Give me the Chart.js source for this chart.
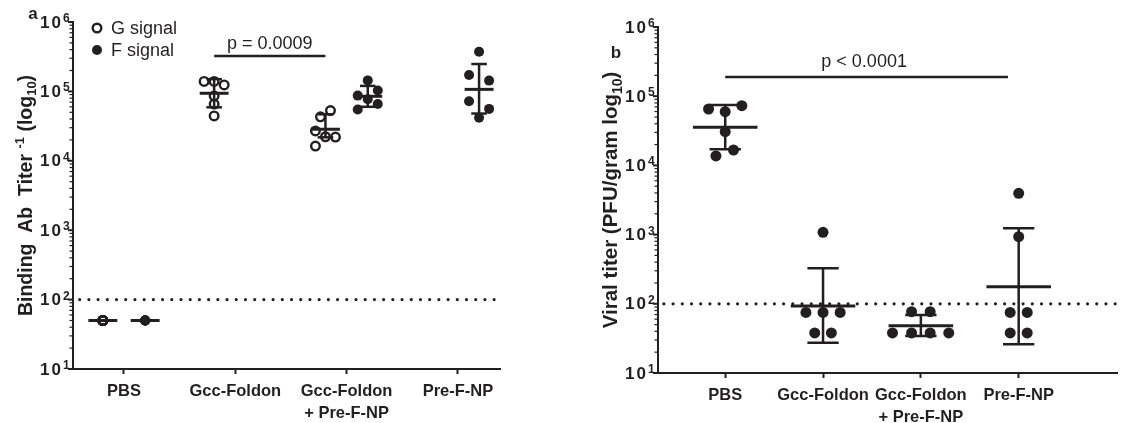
<!DOCTYPE html>
<html>
<head>
<meta charset="utf-8">
<script src="https://cdn.jsdelivr.net/npm/chart.js@4.4.0/dist/chart.umd.min.js"></script>
<style>
  body { margin: 0; background: #fff; width: 1123px; height: 423px; overflow: hidden; position: relative; }
  canvas { position: absolute; top: 0; }
  #chartA { left: 0; }
  #chartB { left: 560px; }
</style>
</head>
<body>
<canvas id="chartA" width="560" height="423"></canvas>
<canvas id="chartB" width="563" height="423"></canvas>
<script>
// ---- data ----
const categories = ['PBS', 'Gcc-Foldon', ['Gcc-Foldon', '+ Pre-F-NP'], 'Pre-F-NP'];
const yExponents = [1, 2, 3, 4, 5, 6];
const detectionLimit = 100;

// panel a, G signal (open circles): PBS, Gcc-Foldon, Gcc-Foldon + Pre-F-NP
const gGroups = [0, 1, 2];
const gPbs = [50, 50, 50, 50, 50, 50];
const gGcc = [139000, 139000, 124000, 86000, 65800, 44300];
const gCombo = [53000, 43000, 26900, 22200, 22000, 16300];
const gMean = [50, 94000, 28500];
const gHigh = [50, 150000, 46800];
const gLow = [50, 59000, 21800];

// panel a, F signal (filled circles): PBS, Gcc-Foldon + Pre-F-NP, Pre-F-NP
const fGroups = [0, 2, 3];
const fPbs = [50, 50, 50, 50, 50, 50];
const fCombo = [144000, 103000, 87000, 77000, 65800, 54800];
const fPreF = [373000, 172000, 143000, 72000, 56000, 41700];
const fMean = [50, 85000, 107000];
const fHigh = [50, 120000, 248000];
const fLow = [50, 60000, 48000];

// panel b, viral titer
const vPbs = [65300, 59700, 73000, 30700, 16700, 13700];
const vGcc = [1080, 75, 75, 75, 38, 38];
const vCombo = [77, 77, 38, 38, 38, 38];
const vPreF = [3950, 933, 75, 75, 38, 38];
const vMean = [35600, 93, 48, 177];
const vHigh = [74600, 326, 69, 1233];
const vLow = [17100, 27.4, 34.3, 26];

const pTextA = 'p = 0.0009';
const pTextB = 'p < 0.0001';

// ---- layout (scatter jitter, in category units) ----
const sideShift = 0.19;
const gJitter = [
  [0, 0, 0, 0, 0, 0],
  [-0.09, 0, 0.09, 0, 0, 0],
  [0.045, -0.045, -0.09, 0, 0.09, -0.09]
];
const fJitter = [
  [0, 0, 0, 0, 0, 0],
  [0, 0.09, -0.09, 0, 0.09, -0.09],
  [0, -0.09, 0.09, -0.09, 0.09, 0]
];
const vJitter = [
  [-0.17, 0, 0.17, 0, 0.085, -0.095],
  [0, -0.175, 0, 0.175, -0.085, 0.085],
  [-0.095, 0.095, -0.29, -0.095, 0.095, 0.285],
  [0, 0, -0.087, 0.087, -0.087, 0.087]
];

const INK = '#231f20';
const FONT = "'Liberation Sans', Arial, Helvetica, sans-serif";

function pts(values, center, jitter) {
  return values.map((v, i) => ({ x: center + jitter[i], y: v }));
}

function seg(x1, y1, x2, y2, w, extra) {
  return Object.assign({
    data: [{ x: x1, y: y1 }, { x: x2, y: y2 }],
    showLine: true, borderColor: INK, borderWidth: w,
    pointRadius: 0, pointHoverRadius: 0, fill: false, order: 2
  }, extra || {});
}

function errorBars(c, mean, hi, lo, meanHalf, capHalf) {
  return [
    seg(c - meanHalf, mean, c + meanHalf, mean, 3),
    seg(c, lo, c, hi, 2.5),
    seg(c - capHalf, hi, c + capHalf, hi, 2.5),
    seg(c - capHalf, lo, c + capHalf, lo, 2.5)
  ];
}

function openSet(data) {
  return { data, pointStyle: 'circle', pointRadius: 4.3, pointBorderWidth: 2.4,
    pointBackgroundColor: 'rgba(255,255,255,0)', pointBorderColor: INK, order: 1 };
}
function filledSet(data, r) {
  return { data, pointStyle: 'circle', pointRadius: r, pointBorderWidth: 0,
    pointBackgroundColor: INK, pointBorderColor: INK, order: 1 };
}

function dotted(xmin, xmax) {
  return seg(xmin, detectionLimit, xmax, detectionLimit, 3.2,
    { borderDash: [0.01, 9.2], borderCapStyle: 'round', order: 3 });
}

function line(ctx, x1, y1, x2, y2, w) {
  ctx.lineWidth = w;
  ctx.beginPath(); ctx.moveTo(x1, y1); ctx.lineTo(x2, y2); ctx.stroke();
}

function drawRich(ctx, parts, size) {
  const fontFor = k => `bold ${k === 'n' ? size : Math.round(size * 0.68)}px ${FONT}`;
  let w = 0;
  parts.forEach(([t, k]) => { ctx.font = fontFor(k); w += ctx.measureText(t).width; });
  let x = -w / 2;
  ctx.textAlign = 'left';
  ctx.textBaseline = 'alphabetic';
  parts.forEach(([t, k]) => {
    ctx.font = fontFor(k);
    const dy = k === 'sup' ? -size * 0.42 : k === 'sub' ? size * 0.22 : 0;
    ctx.fillText(t, x, size * 0.36 + dy);
    x += ctx.measureText(t).width;
  });
}

// axis ticks, labels, titles, notes
function decorations(opts) {
  return {
    id: 'deco',
    afterDraw(chart) {
      const { ctx, chartArea } = chart;
      const x = chart.scales.x, y = chart.scales.y;
      const ax = chartArea.left;
      ctx.save();
      ctx.fillStyle = INK;
      ctx.strokeStyle = INK;
      yExponents.forEach(e => {
        const py = y.getPixelForValue(Math.pow(10, e));
        line(ctx, ax - 5, py, ax, py, 2);
        if (e < 6) {
          for (let m = 2; m <= 9; m++) {
            const pm = y.getPixelForValue(m * Math.pow(10, e));
            line(ctx, ax - 3.5, pm, ax, pm, 1.2);
          }
        }
        ctx.font = `bold 17px ${FONT}`;
        ctx.textAlign = 'right';
        ctx.textBaseline = 'middle';
        ctx.letterSpacing = '2px';
        ctx.fillText('10', ax - 10, py + 1);
        ctx.letterSpacing = '0px';
        ctx.font = `bold 12px ${FONT}`;
        ctx.textAlign = 'left';
        ctx.textBaseline = 'alphabetic';
        ctx.fillText(String(e), ax - 10, py);
      });

      // y title
      ctx.save();
      ctx.translate(opts.titleX, (chartArea.top + chartArea.bottom) / 2);
      ctx.rotate(-Math.PI / 2);
      drawRich(ctx, opts.title, opts.titleSize);
      ctx.restore();

      // panel letter
      ctx.font = `bold 17px ${FONT}`;
      ctx.textAlign = 'center';
      ctx.textBaseline = 'middle';
      ctx.fillText(opts.letter[0], opts.letter[1], opts.letter[2]);

      // p value
      ctx.font = `18px ${FONT}`;
      ctx.fillText(opts.pText, x.getPixelForValue(opts.pAt[0]), y.getPixelForValue(opts.pAt[1]) - opts.pAt[2]);

      if (opts.legend) {
        ctx.lineWidth = 2.4;
        ctx.beginPath(); ctx.arc(97, 28, 4.3, 0, Math.PI * 2); ctx.stroke();
        ctx.beginPath(); ctx.arc(97, 50, 5, 0, Math.PI * 2); ctx.fill();
        ctx.font = `18px ${FONT}`;
        ctx.textAlign = 'left';
        ctx.fillText('G signal', 111, 29);
        ctx.fillText('F signal', 111, 51);
      }
      ctx.restore();
    }
  };
}

function scalesFor(xmin, xmax, yWidth, xHeight) {
  return {
    x: {
      type: 'linear', min: xmin, max: xmax,
      afterBuildTicks: s => { s.ticks = [0, 1, 2, 3].map(v => ({ value: v })); },
      afterFit: s => { s.height = xHeight; },
      ticks: {
        callback: v => categories[v],
        font: { family: FONT, size: 16.5, weight: 'bold', lineHeight: 1.35 },
        color: INK, padding: 6, autoSkip: false, maxRotation: 0
      },
      grid: { drawOnChartArea: false, tickLength: 5, tickWidth: 2, tickColor: INK },
      border: { color: INK, width: 2 }
    },
    y: {
      type: 'logarithmic', min: 10, max: 1000000,
      afterFit: s => { s.width = yWidth; },
      ticks: { display: false },
      grid: { display: false },
      border: { color: INK, width: 2 }
    }
  };
}

// ---- panel a ----
const aXmin = -0.458, aXmax = 3.378;
const aSets = [];
const gData = [gPbs, gGcc, gCombo];
const fData = [fPbs, fCombo, fPreF];
gGroups.forEach((g, i) => aSets.push(openSet(pts(gData[i], g - sideShift, gJitter[i]))));
fGroups.forEach((g, i) => aSets.push(filledSet(pts(fData[i], g + sideShift, fJitter[i]), 5)));
gGroups.forEach((g, i) => aSets.push(...errorBars(g - sideShift, gMean[i], gHigh[i], gLow[i], 0.13, 0.07)));
fGroups.forEach((g, i) => aSets.push(...errorBars(g + sideShift, fMean[i], fHigh[i], fLow[i], 0.13, 0.07)));
aSets.push(seg(1 - sideShift, 324000, 2 - sideShift, 324000, 2.5));
aSets.push(dotted(aXmin + 0.06, aXmax));

new Chart(document.getElementById('chartA'), {
  type: 'scatter',
  data: { datasets: aSets },
  options: {
    responsive: false, animation: false, events: [],
    layout: { padding: { top: 22, right: 60, left: 0, bottom: 0 } },
    plugins: { legend: { display: false }, tooltip: { enabled: false } },
    scales: scalesFor(aXmin, aXmax, 73, 54)
  },
  plugins: [decorations({
    titleX: 25, letter: ['a', 33, 14], legend: true, titleSize: 19.5,
    pText: pTextA, pAt: [1.31, 324000, 12],
    title: [['Binding  Ab  Titer ', 'n'], ['-1', 'sup'], [' (log', 'n'], ['10', 'sub'], [')', 'n']]
  })]
});

// ---- panel b ----
const bXmin = -0.687, bXmax = 4.01;
const bSets = [];
const vData = [vPbs, vGcc, vCombo, vPreF];
vData.forEach((vals, i) => bSets.push(filledSet(pts(vals, i, vJitter[i]), 5.5)));
vData.forEach((vals, i) => bSets.push(...errorBars(i, vMean[i], vHigh[i], vLow[i], 0.33, 0.16)));
bSets.push(seg(0, 189000, 2.89, 189000, 2.5));
bSets.push(dotted(bXmin + 0.06, bXmax));

new Chart(document.getElementById('chartB'), {
  type: 'scatter',
  data: { datasets: bSets },
  options: {
    responsive: false, animation: false, events: [],
    layout: { padding: { top: 27, right: 0, left: 0, bottom: 0 } },
    plugins: { legend: { display: false }, tooltip: { enabled: false } },
    scales: scalesFor(bXmin, bXmax, 98, 50)
  },
  plugins: [decorations({
    titleX: 50, letter: ['b', 56, 53], legend: false, titleSize: 20.5,
    pText: pTextB, pAt: [1.42, 189000, 15],
    title: [['Viral titer (PFU/gram log', 'n'], ['10', 'sub'], [')', 'n']]
  })]
});
</script>
</body>
</html>
